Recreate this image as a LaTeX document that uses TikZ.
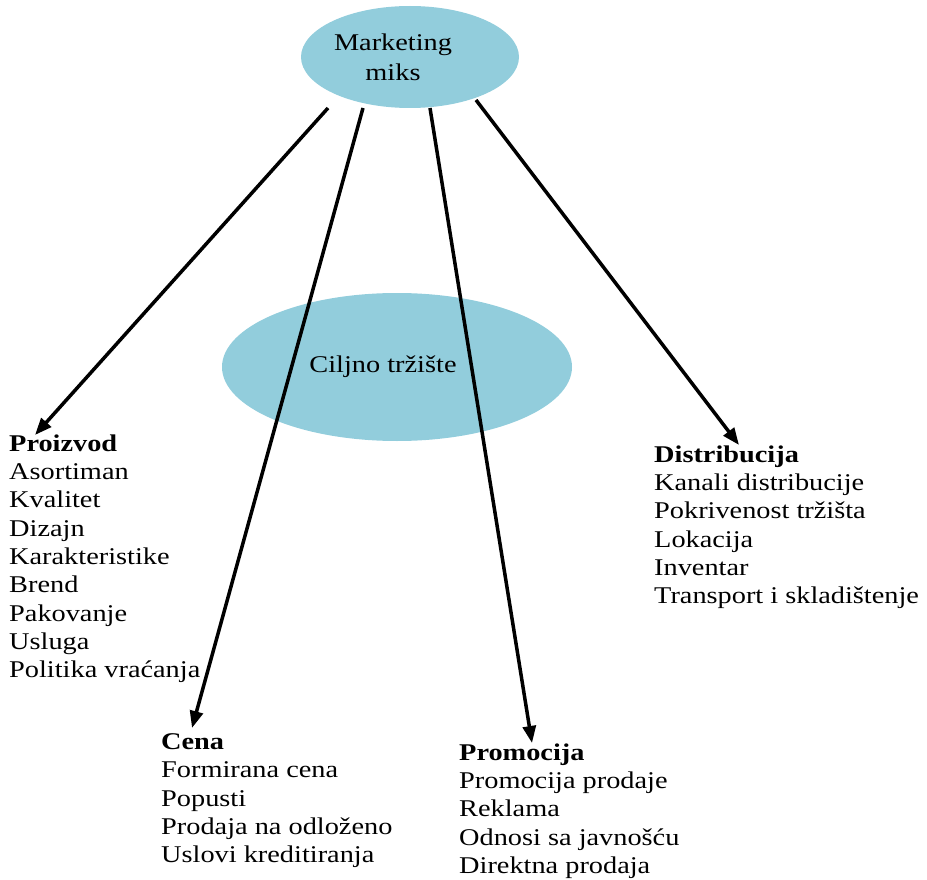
\documentclass[tikz,border=0pt]{standalone}
\usepackage{fontspec}
\setmainfont{Liberation Serif}[FakeStretch=1.18]
\usetikzlibrary{arrows.meta,shapes.geometric}
\definecolor{aqua}{RGB}{146,205,220}
\begin{document}
\begin{tikzpicture}[x=1pt,y=-1pt,
  blob/.style={ellipse, fill=aqua, draw=none, inner sep=0pt},
  label/.style={inner sep=0pt, font=\fontsize{24}{28.3}\selectfont},
  list/.style={label, anchor=north west, align=left},
  conn/.style={line width=3.5pt, -{Triangle[length=17pt,width=13pt]}}]
\useasboundingbox (0,0) rectangle (927,880);
% ellipses
\node[blob, minimum width=218pt, minimum height=102pt] (mm) at (410,57) {};
\node[blob, minimum width=350pt, minimum height=148pt] (ct) at (397,367) {};
\node[label, align=center, anchor=north, font=\fontsize{24}{30}\selectfont] (mmtext) at (393,33.5) {Marketing\\miks};
\node[label, anchor=base] (cttext) at (383,372) {Ciljno tržište};
% lists
\node[list] (proizvod) at (9,434.5) {\textbf{Proizvod}\\Asortiman\\Kvalitet\\Dizajn\\Karakteristike\\Brend\\Pakovanje\\Usluga\\Politika vraćanja};
\node[list] (cena) at (161,733.5) {\textbf{Cena}\\Formirana cena\\Popusti\\Prodaja na odloženo\\Uslovi kreditiranja};
\node[list] (promocija) at (459,743.5) {\textbf{Promocija}\\Promocija prodaje\\Reklama\\Odnosi sa javnošću\\Direktna prodaja};
\node[list] (distribucija) at (654,445.5) {\textbf{Distribucija}\\Kanali distribucije\\Pokrivenost tržišta\\Lokacija\\Inventar\\Transport i skladištenje};
% connector ends
\coordinate (s1) at (328,108);
\coordinate (s2) at (363,108);
\coordinate (s3) at (430,108);
\coordinate (s4) at (476,100);
\coordinate (t1) at (35,435);
\coordinate (t2) at (192,728);
\coordinate (t3) at (532,743);
\coordinate (t4) at (739,445);
\draw[conn] (s1) -- (t1);
\draw[conn] (s2) -- (t2);
\draw[conn] (s3) -- (t3);
\draw[conn] (s4) -- (t4);
\end{tikzpicture}
\end{document}
